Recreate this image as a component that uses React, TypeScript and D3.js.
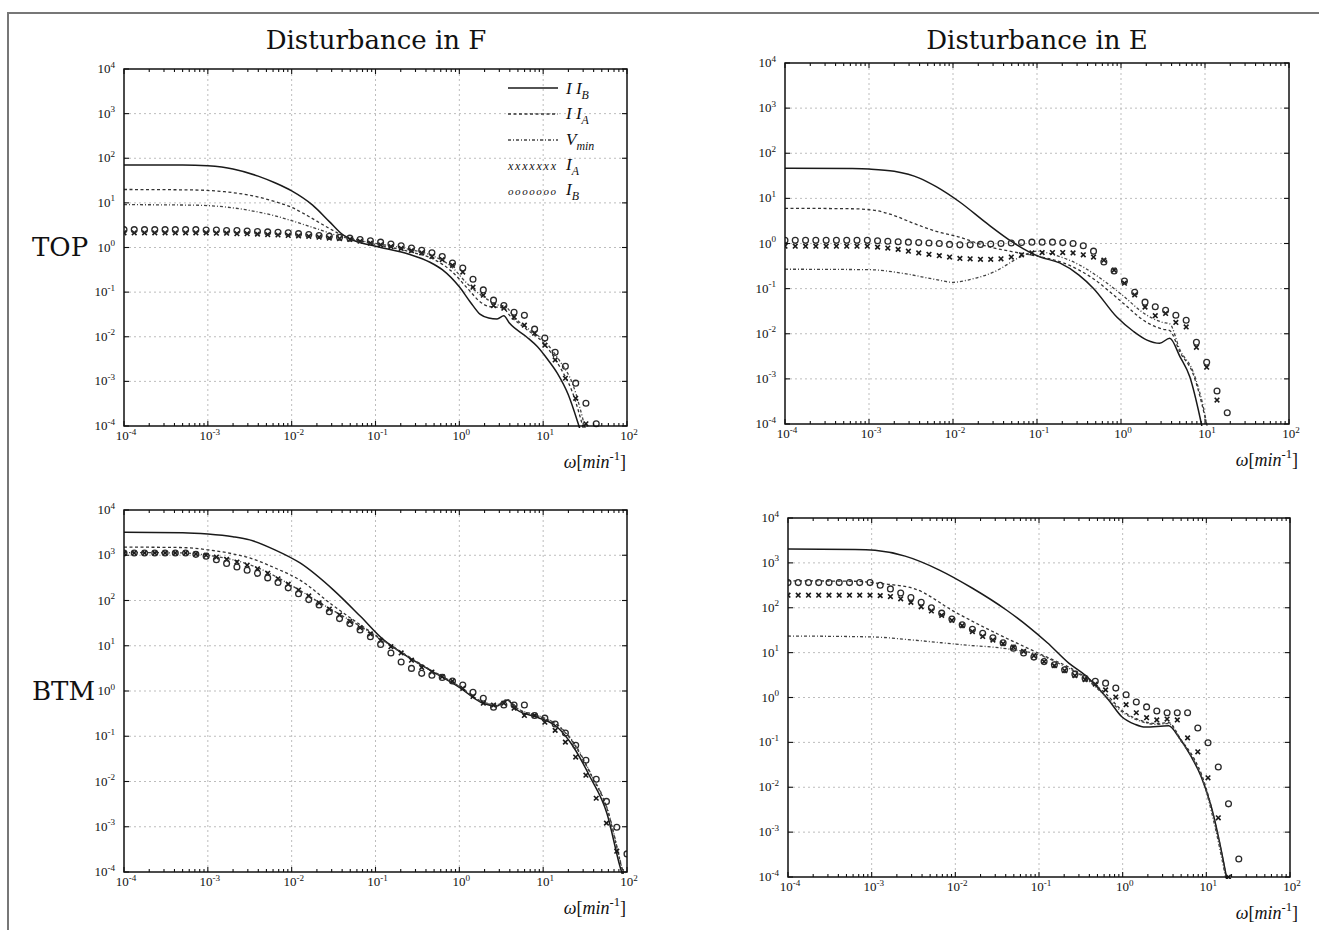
import React, { useEffect, useRef } from 'react';
import * as d3 from 'd3';

type Pt = [number, number];
type Part = { t: string; pos?: 'sub' | 'sup'; italic?: boolean };

const WIDTH = 1319;
const HEIGHT = 930;

const xDecades = [-4, -3, -2, -1, 0, 1, 2];
const yDecades = [-4, -3, -2, -1, 0, 1, 2, 3, 4];
const minorFactors = [2, 3, 4, 5, 6, 7, 8, 9];
const columnTitles = ['Disturbance in F', 'Disturbance in E'];
const rowLabels = ['TOP', 'BTM'];

// log10(omega) of the frequencies where the I_A / I_B markers are drawn
const markerLogW = [
  -4, -3.878, -3.755, -3.633, -3.51, -3.388, -3.265, -3.143, -3.02, -2.898,
  -2.776, -2.653, -2.531, -2.408, -2.286, -2.163, -2.041, -1.918, -1.796, -1.673,
  -1.551, -1.429, -1.306, -1.184, -1.061, -0.939, -0.816, -0.694, -0.571, -0.449,
  -0.327, -0.204, -0.082, 0.041, 0.163, 0.286, 0.408, 0.531, 0.653, 0.776,
  0.898, 1.02, 1.143, 1.265, 1.388, 1.51, 1.633, 1.755, 1.878, 2,
];

// curves: [log10 omega, log10 magnitude]
// TOP, disturbance in F
const topF_IIB: Pt[] = [[-4, 1.85], [-3.3, 1.85], [-3, 1.83], [-2.7, 1.76], [-2.4, 1.6], [-2.2, 1.45], [-2, 1.27], [-1.75, 0.95], [-1.55, 0.58], [-1.4, 0.3], [-1.25, 0.15], [-1, 0.03], [-0.6, -0.15], [-0.35, -0.33], [-0.2, -0.5], [0, -0.88], [0.13, -1.22], [0.25, -1.5], [0.35, -1.58], [0.45, -1.6], [0.53, -1.53], [0.6, -1.7], [0.8, -2.0], [0.93, -2.22], [1.05, -2.5], [1.17, -2.82], [1.3, -3.3], [1.41, -3.9], [1.46, -4.2]];
const topF_IIA: Pt[] = [[-4, 1.3], [-3.2, 1.29], [-2.8, 1.25], [-2.5, 1.17], [-2.2, 1.03], [-2, 0.9], [-1.8, 0.7], [-1.6, 0.48], [-1.4, 0.28], [-1.2, 0.16], [-1, 0.07], [-0.6, -0.09], [-0.3, -0.27], [-0.1, -0.52], [0.1, -0.92], [0.25, -1.22], [0.35, -1.32], [0.52, -1.35], [0.6, -1.52], [0.8, -1.83], [1, -2.13], [1.2, -2.68], [1.35, -3.25], [1.5, -4.2]];
const topF_Vmin: Pt[] = [[-4, 0.96], [-3.2, 0.95], [-2.8, 0.91], [-2.5, 0.83], [-2.2, 0.71], [-2, 0.6], [-1.7, 0.42], [-1.4, 0.24], [-1.2, 0.16], [-1, 0.09], [-0.6, -0.04], [-0.3, -0.2], [-0.1, -0.42], [0.1, -0.82], [0.3, -1.12], [0.45, -1.28], [0.55, -1.32], [0.65, -1.55], [0.85, -1.86], [1, -2.07], [1.2, -2.55], [1.35, -3.05], [1.52, -4.2]];
const topF_IA = [
  0.33, 0.33, 0.33, 0.33, 0.33, 0.33, 0.33, 0.33, 0.33, 0.32,
  0.32, 0.31, 0.31, 0.3, 0.29, 0.28, 0.27, 0.26, 0.25, 0.23,
  0.21, 0.2, 0.18, 0.14, 0.1, 0.06, 0.02, -0.02, -0.07, -0.12,
  -0.2, -0.27, -0.4, -0.55, -0.89, -1.07, -1.3, -1.36, -1.56, -1.74,
  -1.92, -2.19, -2.52, -2.93, -3.38, -3.95, null, null, null, null,
];
const topF_IB = [
  0.4, 0.4, 0.4, 0.4, 0.4, 0.4, 0.4, 0.4, 0.39, 0.39,
  0.38, 0.38, 0.37, 0.36, 0.35, 0.34, 0.33, 0.31, 0.29, 0.27,
  0.25, 0.23, 0.21, 0.18, 0.15, 0.12, 0.08, 0.04, -0.01, -0.06,
  -0.12, -0.2, -0.35, -0.46, -0.71, -0.95, -1.18, -1.3, -1.45, -1.52,
  -1.83, -2.03, -2.35, -2.66, -3.04, -3.49, -3.95, null, null, null,
];

// TOP, disturbance in E
const topE_IIB: Pt[] = [[-4, 1.67], [-3.2, 1.66], [-3, 1.65], [-2.7, 1.6], [-2.4, 1.45], [-2.2, 1.26], [-1.92, 0.92], [-1.6, 0.45], [-1.29, 0.03], [-1.1, -0.18], [-0.96, -0.3], [-0.73, -0.43], [-0.5, -0.7], [-0.33, -0.99], [-0.05, -1.63], [0.15, -1.95], [0.31, -2.14], [0.46, -2.21], [0.58, -2.1], [0.7, -2.5], [0.82, -2.96], [0.94, -3.85], [0.98, -4.2]];
const topE_IIA: Pt[] = [[-4, 0.78], [-3.2, 0.77], [-2.95, 0.74], [-2.7, 0.62], [-2.5, 0.47], [-2.2, 0.27], [-1.92, 0.14], [-1.6, -0.06], [-1.3, -0.18], [-1, -0.28], [-0.7, -0.42], [-0.33, -0.78], [0, -1.28], [0.3, -1.74], [0.5, -1.9], [0.58, -1.93], [0.7, -2.4], [0.86, -2.9], [1.0, -3.85], [1.04, -4.2]];
const topE_Vmin: Pt[] = [[-4, -0.57], [-3, -0.58], [-2.6, -0.66], [-2.2, -0.8], [-2, -0.86], [-1.8, -0.8], [-1.5, -0.62], [-1.2, -0.3], [-1, -0.17], [-0.8, -0.25], [-0.5, -0.47], [-0.3, -0.7], [0, -1.12], [0.3, -1.58], [0.5, -1.75], [0.58, -1.78], [0.7, -2.35], [0.86, -2.85], [1.0, -3.8], [1.04, -4.2]];
const topE_IA = [
  -0.06, -0.06, -0.06, -0.06, -0.06, -0.06, -0.06, -0.06, -0.06, -0.08,
  -0.1, -0.13, -0.17, -0.21, -0.24, -0.27, -0.3, -0.33, -0.34, -0.35,
  -0.35, -0.34, -0.3, -0.25, -0.21, -0.2, -0.2, -0.2, -0.21, -0.25,
  -0.3, -0.37, -0.59, -0.88, -1.14, -1.41, -1.6, -1.55, -1.75, -1.85,
  -2.3, -2.74, -3.47, null, null, null, null, null, null, null,
];
const topE_IB = [
  0.07, 0.07, 0.07, 0.07, 0.07, 0.07, 0.07, 0.07, 0.07, 0.06,
  0.05, 0.04, 0.03, 0.02, 0.01, 0.0, -0.02, -0.03, -0.03, -0.02,
  -0.01, 0.0, 0.01, 0.02, 0.03, 0.03, 0.03, 0.02, 0.0, -0.05,
  -0.17, -0.41, -0.61, -0.83, -1.08, -1.3, -1.4, -1.48, -1.59, -1.7,
  -2.19, -2.63, -3.27, -3.75, null, null, null, null, null, null,
];

// BTM, disturbance in F
const btmF_IIB: Pt[] = [[-4, 3.51], [-3.3, 3.5], [-3, 3.47], [-2.7, 3.41], [-2.5, 3.34], [-2.2, 3.12], [-1.9, 2.83], [-1.5, 2.23], [-1.18, 1.65], [-0.91, 1.14], [-0.7, 0.86], [-0.35, 0.46], [0, 0.08], [0.28, -0.27], [0.45, -0.33], [0.57, -0.2], [0.69, -0.42], [0.93, -0.58], [1.17, -0.8], [1.33, -1.15], [1.56, -1.9], [1.76, -2.7], [1.92, -3.9], [1.97, -4.2]];
const btmF_IIA: Pt[] = [[-4, 3.18], [-3.3, 3.17], [-3, 3.12], [-2.7, 3.03], [-2.5, 2.94], [-2.2, 2.72], [-1.9, 2.45], [-1.5, 1.88], [-1.1, 1.36], [-0.79, 0.98], [-0.5, 0.64], [0, 0.1], [0.28, -0.25], [0.45, -0.31], [0.57, -0.19], [0.7, -0.4], [0.95, -0.56], [1.2, -0.8], [1.35, -1.12], [1.57, -1.85], [1.77, -2.65], [1.93, -3.85], [1.98, -4.2]];
const btmF_Vmin: Pt[] = [[-4, 3.06], [-3.3, 3.05], [-3, 3.0], [-2.7, 2.9], [-2.4, 2.72], [-2, 2.33], [-1.6, 1.88], [-1.2, 1.45], [-0.9, 1.1], [-0.5, 0.62], [0, 0.1], [0.28, -0.24], [0.45, -0.3], [0.57, -0.19], [0.7, -0.39], [0.95, -0.55], [1.2, -0.79], [1.35, -1.1], [1.57, -1.83], [1.77, -2.63], [1.93, -3.83], [1.98, -4.2]];
const btmF_IA = [
  3.05, 3.05, 3.05, 3.05, 3.05, 3.05, 3.05, 3.03, 3.0, 2.96,
  2.91, 2.85, 2.78, 2.7, 2.6, 2.48, 2.36, 2.23, 2.1, 1.95,
  1.81, 1.68, 1.54, 1.4, 1.26, 1.12, 0.98, 0.84, 0.68, 0.52,
  0.42, 0.32, 0.22, 0.06, -0.12, -0.27, -0.31, -0.27, -0.38, -0.54,
  -0.54, -0.69, -0.87, -1.13, -1.46, -1.86, -2.37, -2.92, -3.54, -4.1,
];
const btmF_IB = [
  3.05, 3.05, 3.05, 3.05, 3.05, 3.05, 3.05, 3.02, 2.98, 2.9,
  2.82, 2.74, 2.67, 2.6, 2.5, 2.4, 2.28, 2.15, 2.02, 1.9,
  1.75, 1.6, 1.49, 1.35, 1.2, 1.03, 0.84, 0.64, 0.5, 0.39,
  0.35, 0.3, 0.22, 0.13, -0.03, -0.16, -0.36, -0.31, -0.31, -0.31,
  -0.54, -0.6, -0.73, -0.93, -1.2, -1.53, -1.95, -2.44, -3.01, -3.6,
];

// BTM, disturbance in E
const btmE_IIB: Pt[] = [[-4, 3.31], [-3.2, 3.3], [-2.96, 3.28], [-2.6, 3.15], [-2.19, 2.84], [-1.8, 2.44], [-1.39, 1.95], [-1.12, 1.57], [-0.9, 1.22], [-0.64, 0.76], [-0.45, 0.5], [-0.17, -0.05], [-0.01, -0.43], [0.15, -0.6], [0.27, -0.66], [0.55, -0.63], [0.67, -0.88], [0.82, -1.32], [0.94, -1.77], [1.06, -2.44], [1.23, -3.9], [1.26, -4.2]];
const btmE_IIA: Pt[] = [[-4, 2.6], [-3.2, 2.59], [-2.9, 2.54], [-2.5, 2.43], [-2, 1.9], [-1.5, 1.42], [-1, 0.98], [-0.5, 0.52], [-0.2, 0.08], [0, -0.3], [0.2, -0.5], [0.4, -0.58], [0.55, -0.56], [0.7, -0.95], [0.85, -1.35], [0.95, -1.75], [1.1, -2.75], [1.26, -4.2]];
const btmE_Vmin: Pt[] = [[-4, 1.37], [-3, 1.35], [-2.5, 1.28], [-1.95, 1.18], [-1.36, 1.08], [-1, 0.95], [-0.7, 0.7], [-0.5, 0.5], [-0.2, 0.02], [0, -0.33], [0.2, -0.52], [0.4, -0.6], [0.55, -0.58], [0.7, -0.98], [0.85, -1.4], [0.95, -1.8], [1.1, -2.85], [1.25, -4.2]];
const btmE_IA = [
  2.28, 2.28, 2.28, 2.28, 2.28, 2.28, 2.28, 2.28, 2.28, 2.27,
  2.25, 2.2, 2.12, 2.02, 1.93, 1.83, 1.72, 1.6, 1.47, 1.36,
  1.28, 1.2, 1.12, 1.03, 0.93, 0.8, 0.71, 0.6, 0.49, 0.4,
  0.3, 0.17, 0.01, -0.16, -0.34, -0.45, -0.5, -0.48, -0.5, -0.9,
  -1.21, -1.79, -2.68, -4.0, null, null, null, null, null, null,
];
const btmE_IB = [
  2.56, 2.56, 2.56, 2.56, 2.56, 2.56, 2.56, 2.56, 2.56, 2.5,
  2.42, 2.33, 2.23, 2.12, 2.0, 1.88, 1.75, 1.62, 1.52, 1.43,
  1.33, 1.22, 1.1, 0.99, 0.9, 0.8, 0.73, 0.62, 0.52, 0.43,
  0.36, 0.32, 0.21, 0.06, -0.1, -0.21, -0.3, -0.34, -0.34, -0.34,
  -0.68, -1.01, -1.55, -2.37, -3.6, null, null, null, null, null,
];

const panels = [
  { left: 124, right: 627, top: 69, bottom: 426, labelEnd: 626, lines: [topF_IIB, topF_IIA, topF_Vmin], xs: topF_IA, os: topF_IB, legend: true },
  { left: 785, right: 1289, top: 63, bottom: 424, labelEnd: 1298, lines: [topE_IIB, topE_IIA, topE_Vmin], xs: topE_IA, os: topE_IB, legend: false },
  { left: 124, right: 627, top: 510, bottom: 872, labelEnd: 626, lines: [btmF_IIB, btmF_IIA, btmF_Vmin], xs: btmF_IA, os: btmF_IB, legend: false },
  { left: 788, right: 1290, top: 518, bottom: 877, labelEnd: 1298, lines: [btmE_IIB, btmE_IIA, btmE_Vmin], xs: btmE_IA, os: btmE_IB, legend: false },
];

const lineStyles = [
  { stroke: '#1a1a1a', width: 1.5, dash: null as string | null },
  { stroke: '#333', width: 1.3, dash: '3,2.5' },
  { stroke: '#444', width: 1.3, dash: '3,2,1,2' },
];

const SERIF = '"Liberation Serif", "Times New Roman", serif';
const WIDE_SERIF = '"DejaVu Serif", serif';

// appends tspans with sub/superscripts, keeping track of the baseline shift
function addRich(text: any, parts: Part[], size: number) {
  let shift = 0;
  parts.forEach((p) => {
    const target = p.pos === 'sup' ? -size * 0.42 : p.pos === 'sub' ? size * 0.3 : 0;
    const ts = text.append('tspan').text(p.t).attr('dy', target - shift);
    shift = target;
    if (p.pos) ts.attr('font-size', size * 0.7);
    if (p.italic) ts.attr('font-style', 'italic');
  });
}

const expLabel = (d: number) => (d < 0 ? `-${Math.abs(d)}` : `${d}`);

const App = () => {
  const ref = useRef<SVGSVGElement>(null);

  useEffect(() => {
    const svg = d3.select(ref.current);
    svg.selectAll('*').remove();
    const defs = svg.append('defs');

    // outer frame of the scanned page
    svg.append('path')
      .attr('d', `M8,${HEIGHT} L8,13 L${WIDTH},13`)
      .attr('fill', 'none')
      .attr('stroke', '#777')
      .attr('stroke-width', 2);

    panels.forEach((p, pi) => {
      const x = d3.scaleLog().domain([1e-4, 1e2]).range([p.left, p.right]);
      const y = d3.scaleLog().domain([1e-4, 1e4]).range([p.bottom, p.top]);
      const g = svg.append('g');

      defs.append('clipPath').attr('id', `clip${pi}`)
        .append('rect')
        .attr('x', p.left).attr('y', p.top)
        .attr('width', p.right - p.left).attr('height', p.bottom - p.top + 2);

      // grid
      const grid = g.append('g').attr('stroke', '#bdbdbd').attr('stroke-width', 1).attr('stroke-dasharray', '2,3');
      xDecades.slice(1, -1).forEach((d) => {
        grid.append('line').attr('x1', x(10 ** d)).attr('x2', x(10 ** d)).attr('y1', p.top).attr('y2', p.bottom);
      });
      yDecades.slice(1, -1).forEach((d) => {
        grid.append('line').attr('y1', y(10 ** d)).attr('y2', y(10 ** d)).attr('x1', p.left).attr('x2', p.right);
      });

      const plot = g.append('g').attr('clip-path', `url(#clip${pi})`);

      const line = d3.line<Pt>()
        .x((d) => x(10 ** d[0]))
        .y((d) => y(10 ** d[1]))
        .curve(d3.curveMonotoneX);

      p.lines.forEach((series, li) => {
        const st = lineStyles[li];
        plot.append('path')
          .attr('d', line(series))
          .attr('fill', 'none')
          .attr('stroke', st.stroke)
          .attr('stroke-width', st.width)
          .attr('stroke-dasharray', st.dash);
      });

      const xPts = markerLogW.map((w, i) => [w, p.xs[i]]).filter((d) => d[1] != null) as Pt[];
      const oPts = markerLogW.map((w, i) => [w, p.os[i]]).filter((d) => d[1] != null) as Pt[];

      plot.append('g').selectAll('path').data(xPts).join('path')
        .attr('transform', (d) => `translate(${x(10 ** d[0])},${y(10 ** d[1])})`)
        .attr('d', 'M-2.3,-2.3L2.3,2.3M-2.3,2.3L2.3,-2.3')
        .attr('stroke', '#1a1a1a')
        .attr('stroke-width', 1.6)
        .attr('fill', 'none');

      plot.append('g').selectAll('circle').data(oPts).join('circle')
        .attr('cx', (d) => x(10 ** d[0]))
        .attr('cy', (d) => y(10 ** d[1]))
        .attr('r', 2.9)
        .attr('stroke', '#2a2a2a')
        .attr('stroke-width', 1.3)
        .attr('fill', 'none');

      // axes box
      g.append('rect')
        .attr('x', p.left).attr('y', p.top)
        .attr('width', p.right - p.left).attr('height', p.bottom - p.top)
        .attr('fill', 'none').attr('stroke', '#111').attr('stroke-width', 1.5);

      const ticks = g.append('g').attr('stroke', '#111').attr('stroke-width', 1.1);
      xDecades.forEach((d) => {
        const xv = x(10 ** d);
        ticks.append('line').attr('x1', xv).attr('x2', xv).attr('y1', p.bottom).attr('y2', p.bottom - 5);
        ticks.append('line').attr('x1', xv).attr('x2', xv).attr('y1', p.top).attr('y2', p.top + 5);
        if (d < 2) {
          minorFactors.forEach((k) => {
            const xm = x(k * 10 ** d);
            ticks.append('line').attr('x1', xm).attr('x2', xm).attr('y1', p.bottom).attr('y2', p.bottom - 3);
            ticks.append('line').attr('x1', xm).attr('x2', xm).attr('y1', p.top).attr('y2', p.top + 3);
          });
        }
      });
      yDecades.forEach((d) => {
        const yv = y(10 ** d);
        ticks.append('line').attr('y1', yv).attr('y2', yv).attr('x1', p.left).attr('x2', p.left + 5);
        ticks.append('line').attr('y1', yv).attr('y2', yv).attr('x1', p.right).attr('x2', p.right - 5);
      });

      // tick labels
      const labels = g.append('g').attr('font-family', SERIF).attr('font-size', 13).attr('fill', '#111');
      xDecades.forEach((d) => {
        const t = labels.append('text')
          .attr('x', x(10 ** d) + 2)
          .attr('y', p.bottom + 14)
          .attr('text-anchor', 'middle');
        addRich(t, [{ t: '10' }, { t: expLabel(d), pos: 'sup' }], 13);
      });
      yDecades.forEach((d) => {
        const t = labels.append('text')
          .attr('x', p.left - 9)
          .attr('y', y(10 ** d) + 4)
          .attr('text-anchor', 'end');
        addRich(t, [{ t: '10' }, { t: expLabel(d), pos: 'sup' }], 13);
      });

      // axis label
      const al = g.append('text')
        .attr('x', p.labelEnd)
        .attr('y', p.bottom + 42)
        .attr('text-anchor', 'end')
        .attr('font-family', SERIF)
        .attr('font-size', 18)
        .attr('fill', '#111');
      addRich(al, [
        { t: 'ω', italic: true }, { t: '[' }, { t: 'min', italic: true },
        { t: '-1', pos: 'sup' }, { t: ']' },
      ], 18);

      if (p.legend) {
        const lg = g.append('g').attr('font-family', SERIF).attr('fill', '#111');
        const lx0 = 508;
        const lx1 = 558;
        const tx = 566;
        const rows = [88, 114, 140];
        rows.forEach((ry, i) => {
          const st = lineStyles[i];
          lg.append('line')
            .attr('x1', lx0).attr('x2', lx1).attr('y1', ry).attr('y2', ry)
            .attr('stroke', st.stroke).attr('stroke-width', st.width)
            .attr('stroke-dasharray', st.dash);
        });
        const names: Part[][] = [
          [{ t: 'I I', italic: true }, { t: 'B', pos: 'sub', italic: true }],
          [{ t: 'I I', italic: true }, { t: 'A', pos: 'sub', italic: true }],
          [{ t: 'V', italic: true }, { t: 'min', pos: 'sub', italic: true }],
          [{ t: 'I', italic: true }, { t: 'A', pos: 'sub', italic: true }],
          [{ t: 'I', italic: true }, { t: 'B', pos: 'sub', italic: true }],
        ];
        const baselines = [94, 119, 145, 170, 195];
        names.forEach((parts, i) => {
          const t = lg.append('text').attr('x', tx).attr('y', baselines[i]).attr('font-size', 17);
          addRich(t, parts, 17);
        });
        lg.append('text').attr('x', lx0).attr('y', 170).attr('font-size', 12)
          .attr('font-style', 'italic').attr('textLength', 48).text('xxxxxxx');
        lg.append('text').attr('x', lx0).attr('y', 195).attr('font-size', 11)
          .attr('font-style', 'italic').attr('textLength', 48).text('ooooooo');
      }
    });

    // column titles and row labels
    const titles = svg.append('g').attr('font-family', WIDE_SERIF).attr('fill', '#111');
    columnTitles.forEach((t, i) => {
      titles.append('text')
        .attr('x', i === 0 ? 376 : 1037)
        .attr('y', 49)
        .attr('text-anchor', 'middle')
        .attr('font-size', 26)
        .text(t);
    });
    rowLabels.forEach((t, i) => {
      titles.append('text')
        .attr('x', 32)
        .attr('y', i === 0 ? 256 : 700)
        .attr('font-size', 26)
        .text(t);
    });
  }, []);

  return (
    <svg
      ref={ref}
      width={WIDTH}
      height={HEIGHT}
      style={{ position: 'absolute', left: 0, top: 0, background: '#fff' }}
    />
  );
};

export default App;
